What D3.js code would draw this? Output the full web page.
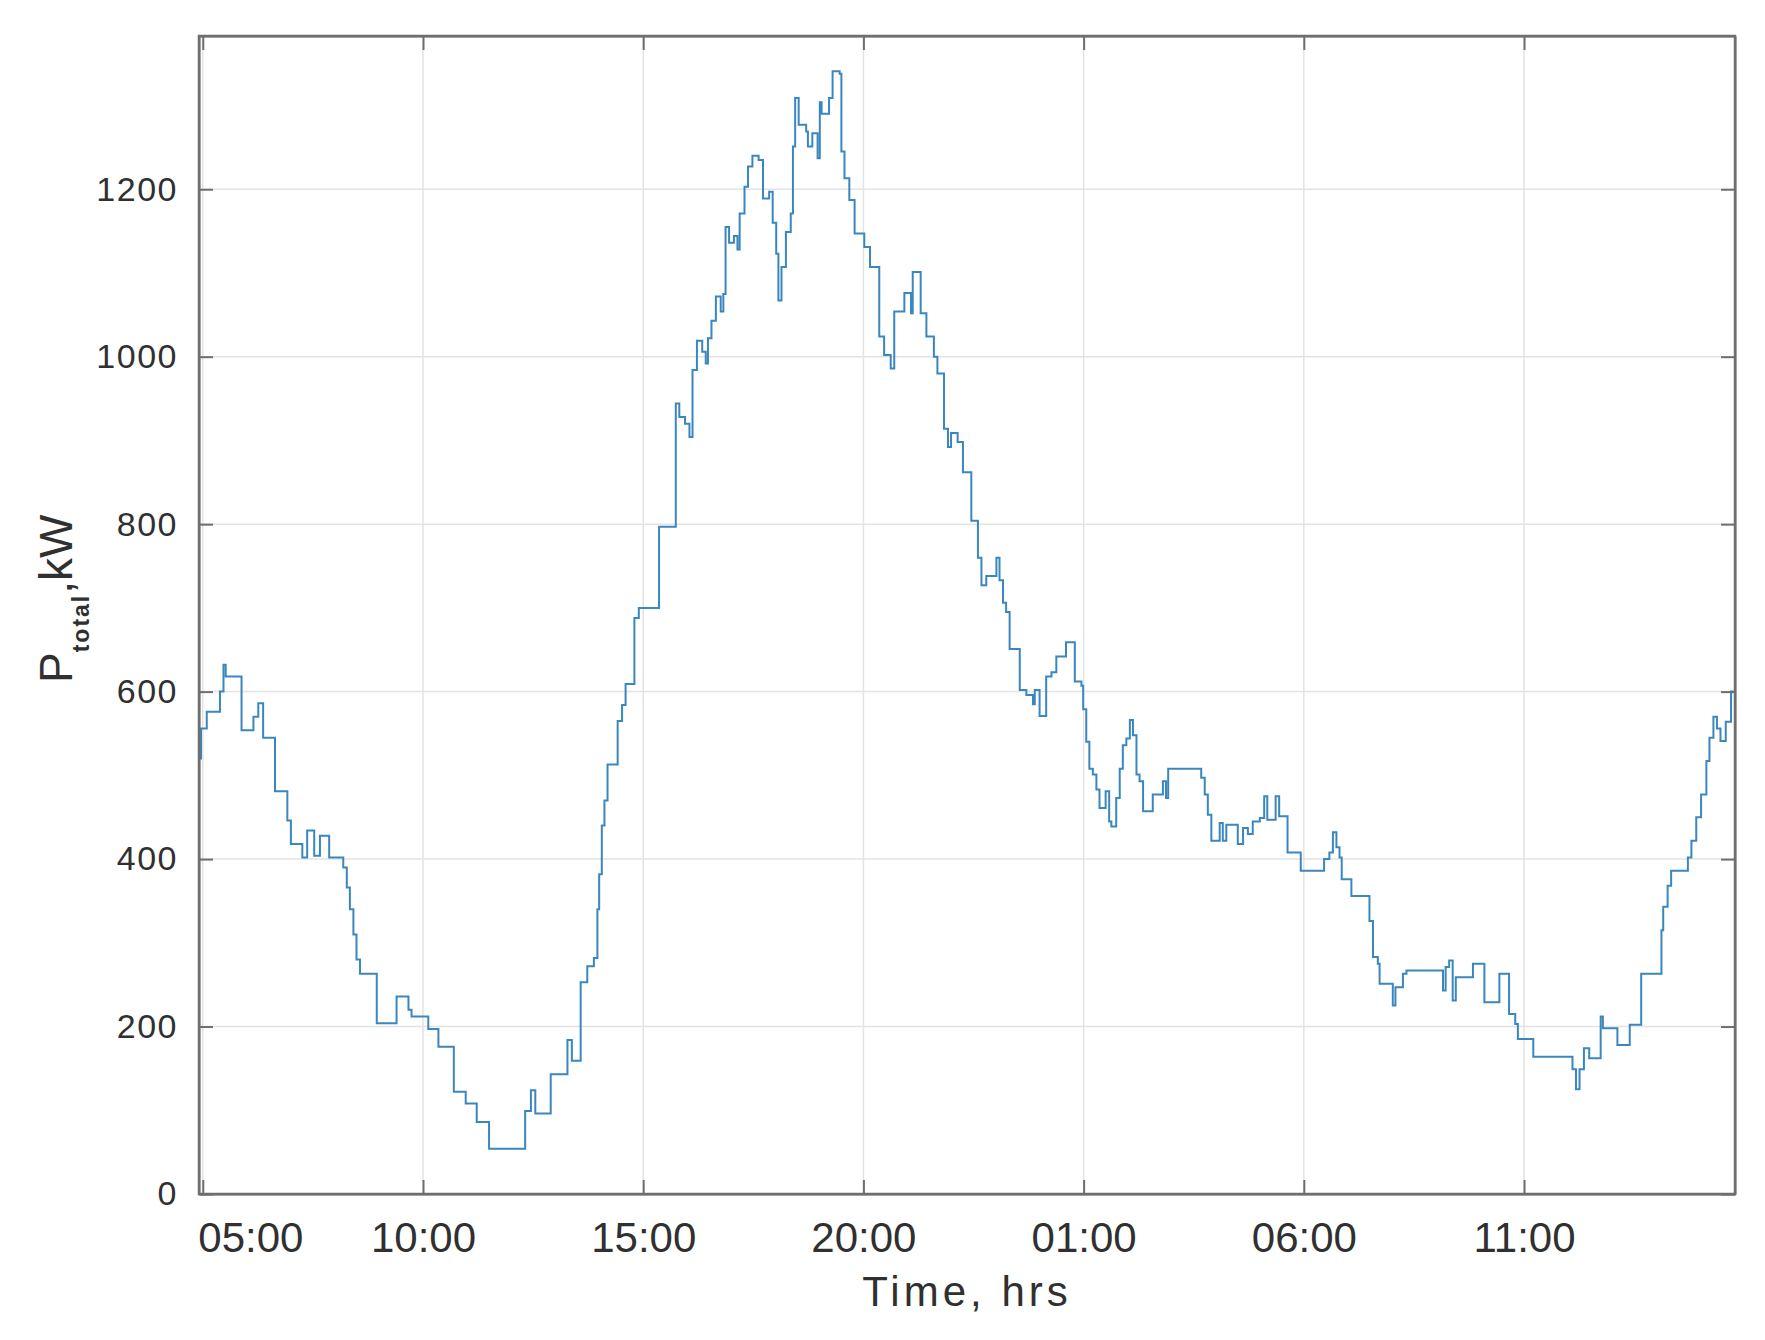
<!DOCTYPE html>
<html lang="en">
<head>
  <meta charset="UTF-8">
  <title>P total, kW</title>
  <style>
    body { margin: 0; background: #fff; }
    svg { display: block; }
    .tick text { font-family: "Liberation Sans", Arial, sans-serif; fill: #303030; }
    .grid line { stroke: #e3e3e3; stroke-width: 1.5; }
    .axis path, .axis line { stroke: #6e6e6e; stroke-width: 2; }
  </style>
</head>
<body>
<div id="chart"></div>

<script src="https://cdn.jsdelivr.net/npm/d3@7"></script>
<script>
  // hours counted from 00:00 of the first day (25 = 01:00 on the next day)
  const hours = [
    4.914, 4.96, 5.09, 5.39, 5.47, 5.52, 5.88, 6.15, 6.26, 6.37, 6.64, 6.92, 7.00, 7.26, 7.37, 7.53, 7.66, 7.87,
    8.19, 8.27, 8.34, 8.42, 8.49, 8.57, 8.95, 9.40, 9.67, 9.74,
    10.12, 10.35, 10.70, 10.97, 11.22, 11.50, 12.32, 12.45, 12.55, 12.90, 13.28, 13.38, 13.58, 13.73, 13.88, 13.96,
    14.00, 14.06, 14.12, 14.19, 14.42, 14.52, 14.60, 14.80, 14.90,
    15.36, 15.74, 15.82, 15.95, 16.05, 16.12, 16.22, 16.34, 16.42, 16.47, 16.55, 16.65, 16.76, 16.82, 16.87, 16.95,
    17.06, 17.14, 17.19, 17.30, 17.38, 17.48, 17.62, 17.72, 17.86, 17.94, 18.02, 18.07, 18.14, 18.24, 18.35, 18.40,
    18.45, 18.53, 18.70, 18.74, 18.84, 18.96, 19.01, 19.05, 19.22, 19.30, 19.46, 19.50, 19.57, 19.68, 19.80,
    20.02, 20.15, 20.36, 20.47, 20.62, 20.70, 20.93, 21.08, 21.12, 21.30, 21.43, 21.60, 21.68, 21.83, 21.92, 21.99,
    22.14, 22.26, 22.45, 22.60, 22.68, 22.79, 23.02, 23.09, 23.17, 23.24, 23.32, 23.55, 23.70, 23.85, 23.89,
    24.00, 24.15, 24.27, 24.38, 24.60, 24.80, 24.95,
    24.99, 25.06, 25.13, 25.21, 25.29, 25.36, 25.50, 25.58, 25.63, 25.74, 25.82, 25.89, 25.97, 26.05, 26.12, 26.20,
    26.27, 26.35, 26.57, 26.80, 26.87, 26.92, 27.67, 27.75, 27.82, 27.90, 28.09, 28.16, 28.24, 28.50, 28.62, 28.73,
    28.84, 29.00, 29.10, 29.17, 29.36, 29.44, 29.63, 29.93,
    30.46, 30.58, 30.66, 30.74, 30.81, 30.86, 31.08, 31.49, 31.57, 31.68, 31.72, 32.02, 32.08, 32.25, 32.33,
    33.16, 33.22, 33.30, 33.38, 33.45, 33.84, 34.10, 34.44, 34.66, 34.80, 34.86,
    35.21, 36.10, 36.18, 36.26, 36.36, 36.48, 36.74, 36.79, 37.12, 37.40, 37.66, 38.12, 38.16, 38.26, 38.34,
    38.72, 38.80, 38.91, 39.02, 39.14, 39.21, 39.30, 39.38, 39.46, 39.58, 39.70, 39.79
  ];

  const powerKW = [
    520, 556, 576, 600, 632, 618, 554, 570, 586, 545, 481, 446, 418, 402, 434, 404, 428, 402,
    390, 366, 340, 310, 280, 263, 204, 236, 220, 212,
    197, 176, 122, 108, 86, 54, 99, 124, 96, 143, 184, 159, 253, 272, 282, 340,
    382, 440, 470, 513, 565, 584, 609, 688, 700,
    797, 944, 928, 920, 904, 984, 1019, 1006, 992, 1022, 1043, 1072, 1054, 1075, 1155, 1136,
    1144, 1128, 1171, 1203, 1227, 1240, 1235, 1189, 1197, 1160, 1123, 1067, 1107, 1149, 1171, 1251,
    1309, 1277, 1269, 1251, 1267, 1237, 1304, 1290, 1309, 1341, 1338, 1245, 1213, 1187, 1147,
    1131, 1107, 1024, 1002, 986, 1054, 1076, 1052, 1101, 1052, 1024, 1000, 980, 914, 892, 909,
    898, 862, 804, 760, 727, 738, 760, 733, 706, 695, 651, 602, 596, 585, 602,
    571, 618, 623, 642, 659, 612, 607,
    579, 540, 508, 501, 483, 461, 481, 445, 439, 473, 508, 536, 544, 566, 548, 501,
    493, 457, 477, 493, 473, 508, 497, 477, 453, 422, 443, 422, 441, 418, 437, 430,
    445, 449, 475, 447, 475, 451, 408, 386,
    400, 408, 432, 414, 402, 376, 356, 326, 283, 275, 251, 225, 247, 263, 267,
    243, 271, 279, 231, 259, 275, 229, 263, 215, 203, 185,
    164, 149, 125, 149, 174, 162, 212, 198, 178, 202, 263, 315, 343, 368, 386,
    402, 422, 450, 477, 517, 545, 570, 556, 541, 564, 600, 604
  ];

  const xTickHours = [5, 10, 15, 20, 25, 30, 35];
  const xTickLabels = ["05:00", "10:00", "15:00", "20:00", "01:00", "06:00", "11:00"];
  const yTicks = [0, 200, 400, 600, 800, 1000, 1200];
  const xDomain = [4.914, 39.79];
  const yDomain = [0, 1383];

  const margin = {top: 36, right: 30, bottom: 146, left: 199},
    width = 1765 - margin.left - margin.right,
    height = 1340 - margin.top - margin.bottom,
    tickLen = 14,
    fontFamily = '"Liberation Sans", Arial, sans-serif';

  const data = hours.map((h, i) => ({ hour: h, value: powerKW[i] }));

  const root = d3.select("#chart").append("svg")
    .attr("width", width + margin.left + margin.right)
    .attr("height", height + margin.top + margin.bottom);

  const svg = root.append("g")
    .attr("transform", "translate(" + margin.left + "," + margin.top + ")");

  const xScale = d3.scaleLinear().domain(xDomain).range([0, width]);
  const yScale = d3.scaleLinear().domain(yDomain).range([height, 0]);

  // grid
  svg.append("g").attr("class", "grid")
    .selectAll("line.v")
    .data(xTickHours)
    .enter().append("line")
    .attr("x1", d => xScale(d)).attr("x2", d => xScale(d))
    .attr("y1", 0).attr("y2", height);

  svg.append("g").attr("class", "grid")
    .selectAll("line.h")
    .data(yTicks.filter(d => d > 0))
    .enter().append("line")
    .attr("x1", 0).attr("x2", width)
    .attr("y1", d => yScale(d)).attr("y2", d => yScale(d));

  // the series
  svg.append("clipPath").attr("id", "plot-clip")
    .append("rect").attr("width", width).attr("height", height);

  const line = d3.line()
    .x(d => xScale(d.hour))
    .y(d => yScale(d.value))
    .curve(d3.curveStepAfter);

  svg.append("path")
    .datum(data)
    .attr("clip-path", "url(#plot-clip)")
    .attr("fill", "none")
    .attr("stroke", "#3a87bf")
    .attr("stroke-width", 2)
    .attr("stroke-linejoin", "miter")
    .attr("d", line);

  // axes, ticks pointing inwards on all four sides
  const labelFor = d => xTickLabels[xTickHours.indexOf(d)];

  const xAxis = svg.append("g")
    .attr("class", "axis")
    .attr("transform", "translate(0," + height + ")")
    .call(d3.axisBottom(xScale)
      .tickValues(xTickHours)
      .tickFormat(labelFor)
      .tickSizeInner(-tickLen)
      .tickSizeOuter(0)
      .tickPadding(28));

  xAxis.selectAll("text")
    .attr("font-family", fontFamily)
    .attr("font-size", 42);

  // first label sits flush with the left edge
  xAxis.selectAll(".tick text")
    .filter(d => d === xTickHours[0])
    .attr("text-anchor", "start")
    .attr("x", -5);

  svg.append("g")
    .attr("class", "axis")
    .call(d3.axisTop(xScale)
      .tickValues(xTickHours)
      .tickFormat("")
      .tickSizeInner(-tickLen)
      .tickSizeOuter(0));

  const yAxis = svg.append("g")
    .attr("class", "axis")
    .call(d3.axisLeft(yScale)
      .tickValues(yTicks)
      .tickFormat(d3.format("d"))
      .tickSizeInner(-tickLen)
      .tickSizeOuter(0)
      .tickPadding(21));

  yAxis.selectAll("text")
    .attr("font-family", fontFamily)
    .attr("font-size", 34)
    .attr("letter-spacing", 1.5);

  svg.append("g")
    .attr("class", "axis")
    .attr("transform", "translate(" + width + ",0)")
    .call(d3.axisRight(yScale)
      .tickValues(yTicks)
      .tickFormat("")
      .tickSizeInner(-tickLen)
      .tickSizeOuter(0));

  // box
  svg.append("rect")
    .attr("width", width)
    .attr("height", height)
    .attr("fill", "none")
    .attr("stroke", "#6e6e6e")
    .attr("stroke-width", 2.5);

  // axis titles
  root.append("text")
    .attr("x", margin.left + width / 2)
    .attr("y", 1306)
    .attr("text-anchor", "middle")
    .attr("font-family", fontFamily)
    .attr("font-size", 42)
    .attr("letter-spacing", 4)
    .attr("fill", "#303030")
    .text("Time, hrs");

  const yLabel = root.append("text")
    .attr("transform", "translate(72,683) rotate(-90)")
    .attr("font-family", fontFamily)
    .attr("font-size", 46)
    .attr("fill", "#303030");

  yLabel.append("tspan").text("P");
  yLabel.append("tspan")
    .attr("font-size", 23)
    .attr("font-weight", "bold")
    .attr("dy", 17)
    .attr("letter-spacing", 2)
    .text("total");
  yLabel.append("tspan")
    .attr("dy", -17)
    .text(",kW");
</script>
</body>
</html>
